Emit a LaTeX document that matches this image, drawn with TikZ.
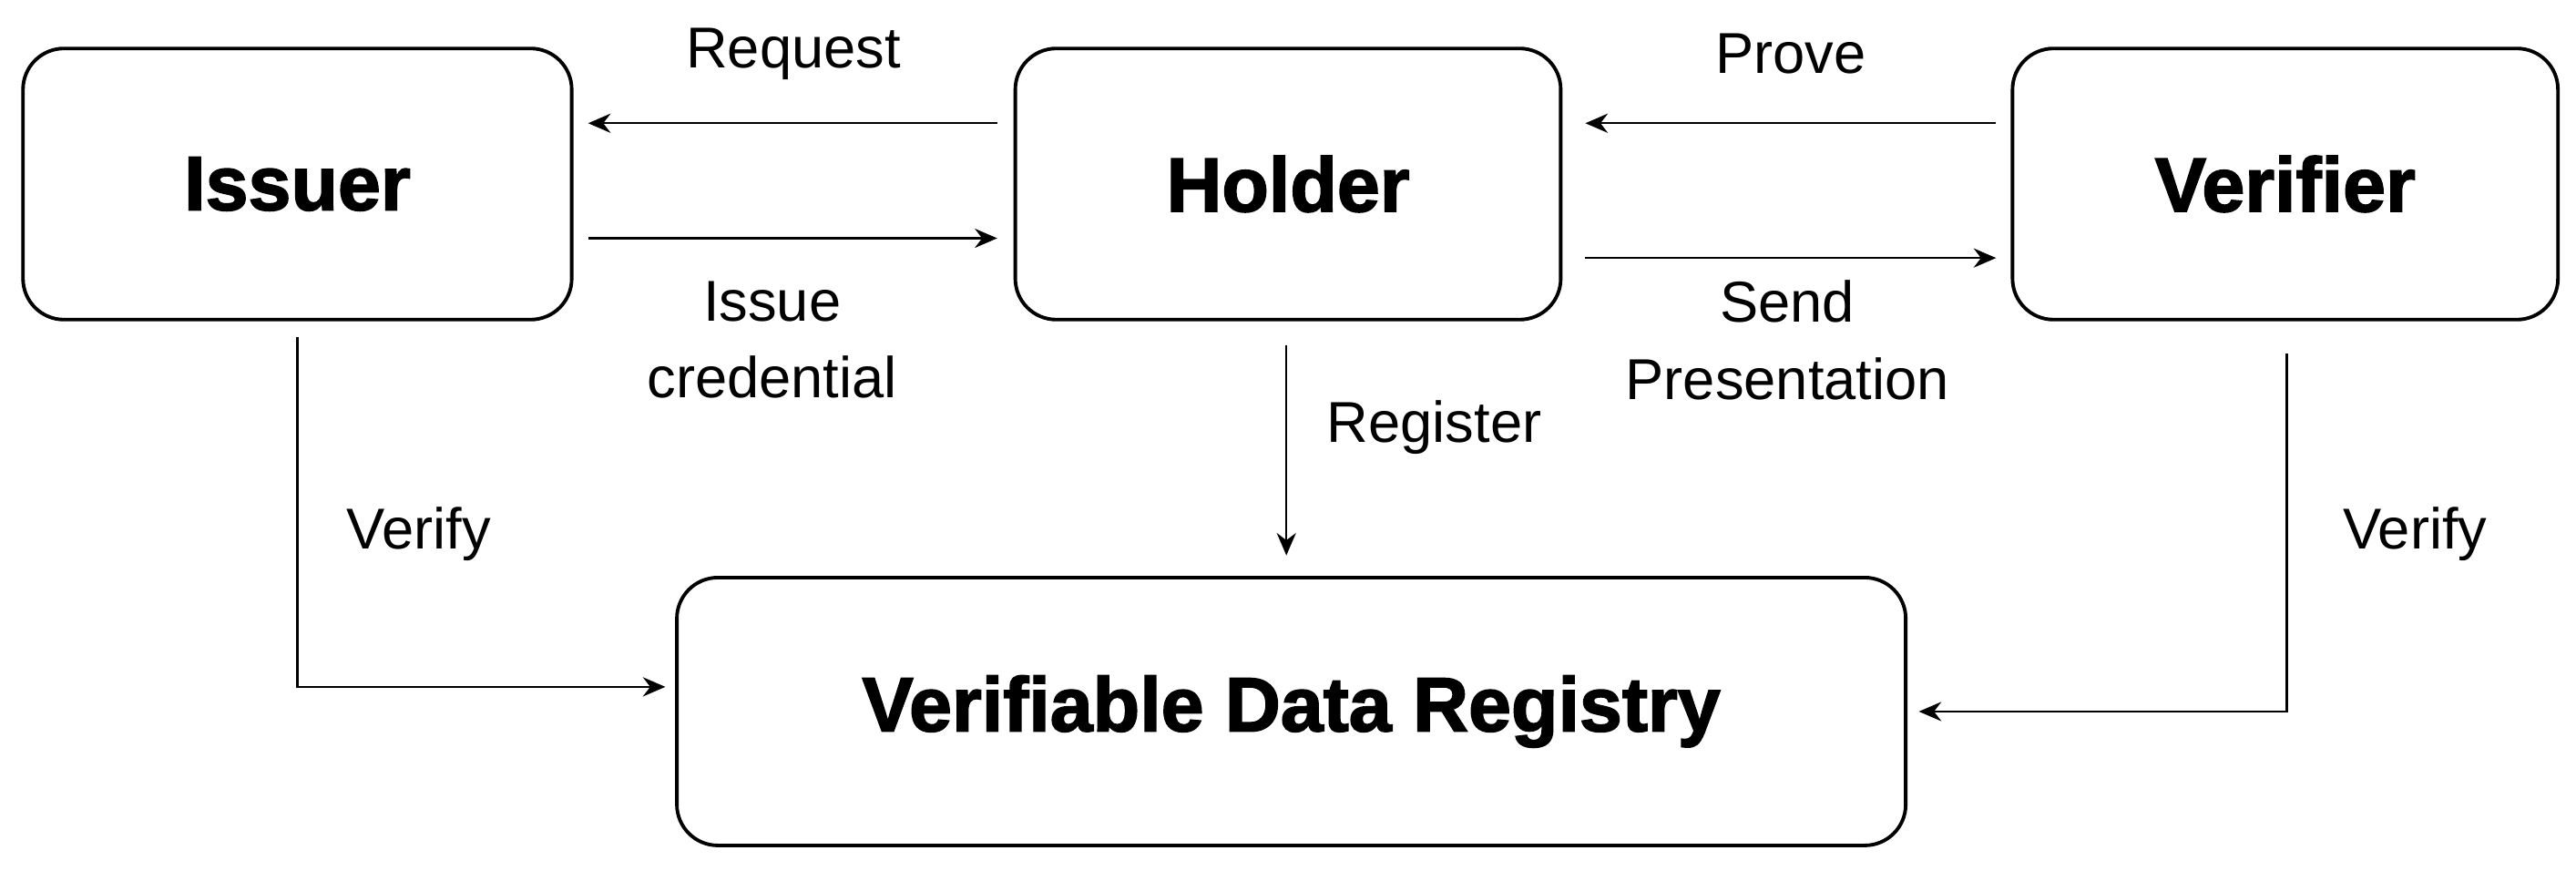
\documentclass[tikz,border=0pt]{standalone}
\usepackage{fontspec}
\setmainfont{Liberation Sans}
\usetikzlibrary{arrows.meta}
\begin{document}
\begin{tikzpicture}[x=0.01804cm,y=-0.01804cm,
  box/.style={draw,line width=1.1pt,rounded corners=0.45cm,font=\fontsize{24}{28}\selectfont\bfseries},
  arr/.style={-{Stealth[length=7pt,width=6pt]},line width=0.7pt},
  lab/.style={font=\fontsize{18}{24}\selectfont,align=center}]
\useasboundingbox (0,0) rectangle (1568,530);
\node[box,minimum width=334*0.01804cm,minimum height=165*0.01804cm] (iss) at (181,112) {\addfontfeature{FakeBold=2}Issuer};
\node[box,minimum width=332*0.01804cm,minimum height=165*0.01804cm] (hol) at (784,112) {\addfontfeature{FakeBold=2}Holder};
\node[box,minimum width=332*0.01804cm,minimum height=165*0.01804cm] (ver) at (1391,112) {\addfontfeature{FakeBold=2}Verifier};
\node[box,minimum width=748*0.01804cm,minimum height=163*0.01804cm] (vdr) at (786,433) {\addfontfeature{FakeBold=2}Verifiable Data Registry};
\draw[arr] (607,75) -- (358,75);
\draw[arr] (358,145) -- (607,145);
\draw[arr] (1215,75) -- (965,75);
\draw[arr] (965,157) -- (1215,157);
\draw[arr] (783,210) -- (783,338);
\draw[arr] (181,205) -- (181,418) -- (405,418);
\draw[arr] (1392,215) -- (1392,433) -- (1168,433);
\node[lab] (l1) at (483,33) {Request};
\node[lab] (l2) at (470,207) {Issue\\credential};
\node[lab] (l3) at (1090,33) {Prove};
\node[lab] (l4) at (1088,207) {Send\\Presentation};
\node[lab] (l5) at (873,260) {Register};
\node[lab] (l6) at (255,325) {Verify};
\node[lab] (l7) at (1470,325) {Verify};
\end{tikzpicture}
\end{document}
